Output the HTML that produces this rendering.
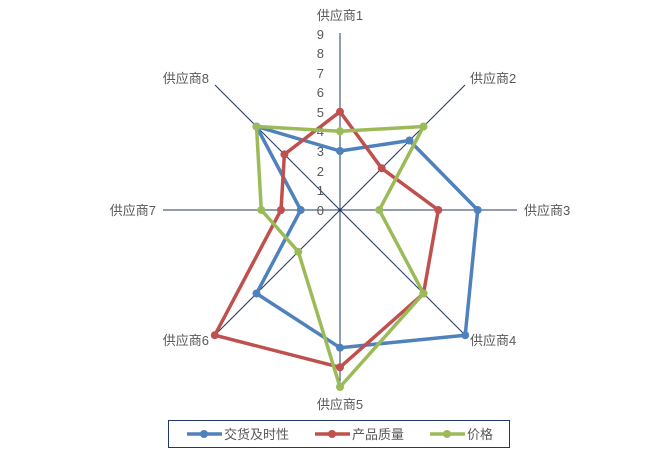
<!DOCTYPE html>
<html><head><meta charset="utf-8"><style>
body{margin:0;background:#fff;}
svg text{font-family:"Liberation Sans","Noto Sans CJK SC",sans-serif;fill:#595959;}
</style></head><body>
<svg width="670" height="453" viewBox="0 0 670 453" xmlns="http://www.w3.org/2000/svg">
<g stroke="#1f3864" stroke-width="1">
<line x1="340" y1="33" x2="340" y2="387"/>
<line x1="163" y1="210" x2="517" y2="210"/>
<line x1="215" y1="85" x2="465" y2="335"/>
<line x1="465" y1="85" x2="215" y2="335"/>
</g>
<g font-size="13" text-anchor="end">
<text x="324" y="215">0</text><text x="324" y="195">1</text><text x="324" y="176">2</text>
<text x="324" y="156">3</text><text x="324" y="136">4</text><text x="324" y="117">5</text>
<text x="324" y="97">6</text><text x="324" y="78">7</text><text x="324" y="58">8</text>
<text x="324" y="39">9</text>
</g>
<g font-size="13">
<text x="340" y="20" text-anchor="middle">供应商1</text>
<text x="470" y="83">供应商2</text>
<text x="524" y="215">供应商3</text>
<text x="470" y="345">供应商4</text>
<text x="340" y="409" text-anchor="middle">供应商5</text>
<text x="209" y="345" text-anchor="end">供应商6</text>
<text x="156" y="215" text-anchor="end">供应商7</text>
<text x="209" y="83" text-anchor="end">供应商8</text>
</g>
<g fill="none" stroke-width="3.5" stroke-linejoin="round">
<polygon stroke="#4f81bd" points="340,151 409.5,140.5 477.7,210 465.2,335.2 340,347.7 256.5,293.5 300.7,210 256.5,126.5"/>
<polygon stroke="#c0504d" points="340,111.7 381.7,168.3 438.3,210 423.5,293.5 340,367.3 214.8,335.2 281,210 284.4,154.4"/>
<polygon stroke="#9bbb59" points="340,131.3 423.5,126.5 379.3,210 423.5,293.5 340,387 298.3,251.7 261.3,210 256.5,126.5"/>
</g>
<g fill="#4f81bd"><circle cx="340" cy="151" r="4"/><circle cx="409.5" cy="140.5" r="4"/><circle cx="477.7" cy="210" r="4"/><circle cx="465.2" cy="335.2" r="4"/><circle cx="340" cy="347.7" r="4"/><circle cx="256.5" cy="293.5" r="4"/><circle cx="300.7" cy="210" r="4"/><circle cx="256.5" cy="126.5" r="4"/></g>
<g fill="#c0504d"><circle cx="340" cy="111.7" r="4"/><circle cx="381.7" cy="168.3" r="4"/><circle cx="438.3" cy="210" r="4"/><circle cx="423.5" cy="293.5" r="4"/><circle cx="340" cy="367.3" r="4"/><circle cx="214.8" cy="335.2" r="4"/><circle cx="281" cy="210" r="4"/><circle cx="284.4" cy="154.4" r="4"/></g>
<g fill="#9bbb59"><circle cx="340" cy="131.3" r="4"/><circle cx="423.5" cy="126.5" r="4"/><circle cx="379.3" cy="210" r="4"/><circle cx="423.5" cy="293.5" r="4"/><circle cx="340" cy="387" r="4"/><circle cx="298.3" cy="251.7" r="4"/><circle cx="261.3" cy="210" r="4"/><circle cx="256.5" cy="126.5" r="4"/></g>
<rect x="168.5" y="420.5" width="341" height="27" fill="#fff" stroke="#1f3864" stroke-width="1"/>
<g stroke-width="3.5">
<line x1="187" y1="434" x2="222" y2="434" stroke="#4f81bd"/><circle cx="204" cy="434" r="4" fill="#4f81bd"/>
<line x1="315" y1="434" x2="350" y2="434" stroke="#c0504d"/><circle cx="332" cy="434" r="4" fill="#c0504d"/>
<line x1="430" y1="434" x2="465" y2="434" stroke="#9bbb59"/><circle cx="447" cy="434" r="4" fill="#9bbb59"/>
</g>
<g font-size="13">
<text x="224" y="439">交货及时性</text>
<text x="352" y="439">产品质量</text>
<text x="467" y="439">价格</text>
</g>
</svg>
</body></html>
